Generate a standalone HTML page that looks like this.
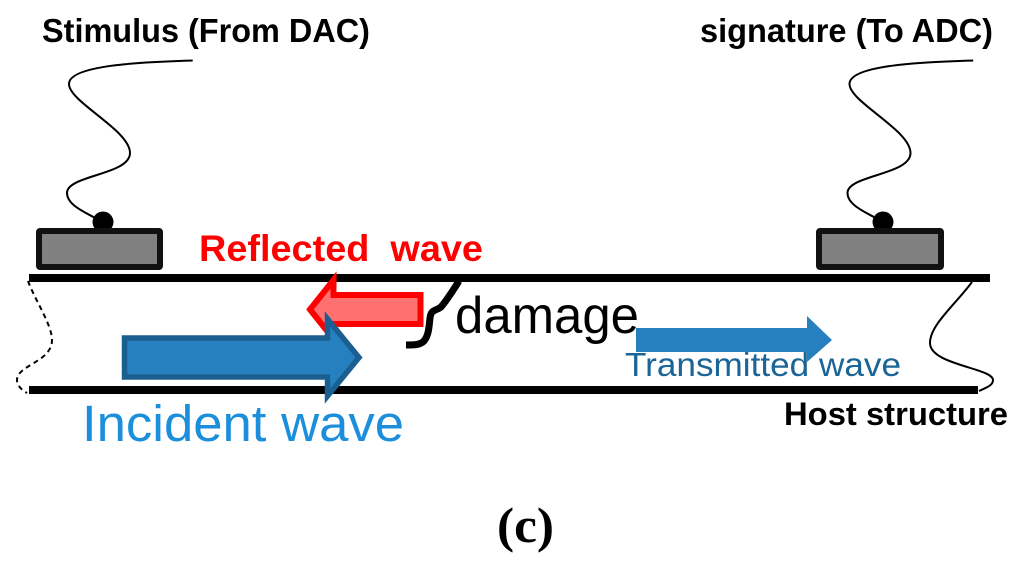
<!DOCTYPE html>
<html>
<head>
<meta charset="utf-8">
<style>
html,body{margin:0;padding:0;background:#fff;width:1024px;height:570px;overflow:hidden}
svg{display:block}
text{font-family:"Liberation Sans",sans-serif}
</style>
</head>
<body>
<svg width="1024" height="570" viewBox="0 0 1024 570" xmlns="http://www.w3.org/2000/svg">
<rect width="1024" height="570" fill="#fff"/>

<!-- wires -->
<path d="M192.7 60.5 C150 62 69 64 69 84 C69 102 130 130 130 153 C130 175 67 175 67 193 C67 205 85 212 95 218" fill="none" stroke="#000" stroke-width="2"/>
<path d="M973.2 60.5 C930.5 62 849.5 64 849.5 84 C849.5 102 910.5 130 910.5 153 C910.5 175 847.5 175 847.5 193 C847.5 205 865.5 212 875.5 218" fill="none" stroke="#000" stroke-width="2"/>

<!-- sensors -->
<circle cx="103" cy="222" r="10.5" fill="#000"/>
<circle cx="883" cy="222" r="10.5" fill="#000"/>
<rect x="39" y="231" width="121" height="36" rx="1" fill="#808080" stroke="#111" stroke-width="6"/>
<rect x="819" y="231" width="122" height="36" rx="1" fill="#808080" stroke="#111" stroke-width="6"/>

<!-- beam -->
<rect x="29" y="274" width="961" height="8" fill="#000"/>
<rect x="29" y="386" width="949" height="8" fill="#000"/>

<!-- edges -->
<path d="M28 281 C35 300 52 325 52 340 C52 362 17 365 17 380 C17 386 22 390 27 393" fill="none" stroke="#000" stroke-width="2" stroke-dasharray="5 4"/>
<path d="M972 282 C955 305 930 325 930 343 C930 365 993 368 993 380 C993 386 985 388 979 391" fill="none" stroke="#000" stroke-width="2"/>

<!-- damage bracket -->
<path d="M459 281 C452 292 447 300 441 307 C436 311 431 309 430 318 C429 326 429 335 424 341 C420 345 414 345 406 345" fill="none" stroke="#000" stroke-width="7"/>

<!-- reflected arrow -->
<polygon points="420.5,295 333.5,295 333.5,280 310,309.5 333.5,339 333.5,324 420.5,324" fill="#ff7070" stroke="#ff0000" stroke-width="6" stroke-miterlimit="10"/>

<!-- incident arrow -->
<polygon points="124.5,338 327.5,338 327.5,319 359,357.5 327.5,396 327.5,377 124.5,377" fill="#2680bf" stroke="#1a5f8f" stroke-width="5.5" stroke-miterlimit="10"/>

<!-- transmitted arrow -->
<polygon points="636,328 807,328 807,316 832,340 807,362 807,352 636,352" fill="#2680bf"/>

<!-- labels -->
<text x="42" y="42" font-size="33" font-weight="700" fill="#000" textLength="328" lengthAdjust="spacingAndGlyphs">Stimulus (From DAC)</text>
<text x="700" y="42" font-size="33" font-weight="700" fill="#000" textLength="293" lengthAdjust="spacingAndGlyphs">signature (To ADC)</text>
<text x="199" y="261" font-size="37" font-weight="700" fill="#ff0000" textLength="284" lengthAdjust="spacingAndGlyphs" xml:space="preserve">Reflected  wave</text>
<text x="455" y="333" font-size="52" fill="#000" textLength="184" lengthAdjust="spacingAndGlyphs">damage</text>
<text x="625" y="376" font-size="33" fill="#1a6496" textLength="276" lengthAdjust="spacingAndGlyphs">Transmitted wave</text>
<text x="82" y="441" font-size="51" fill="#1c8fdc" textLength="322" lengthAdjust="spacingAndGlyphs">Incident wave</text>
<text x="784" y="425" font-size="32" font-weight="700" fill="#000" textLength="224" lengthAdjust="spacingAndGlyphs">Host structure</text>
<text x="497" y="542" font-size="50" font-weight="700" fill="#000" style="font-family:'Liberation Serif',serif" textLength="57" lengthAdjust="spacingAndGlyphs">(c)</text>
</svg>
</body>
</html>
